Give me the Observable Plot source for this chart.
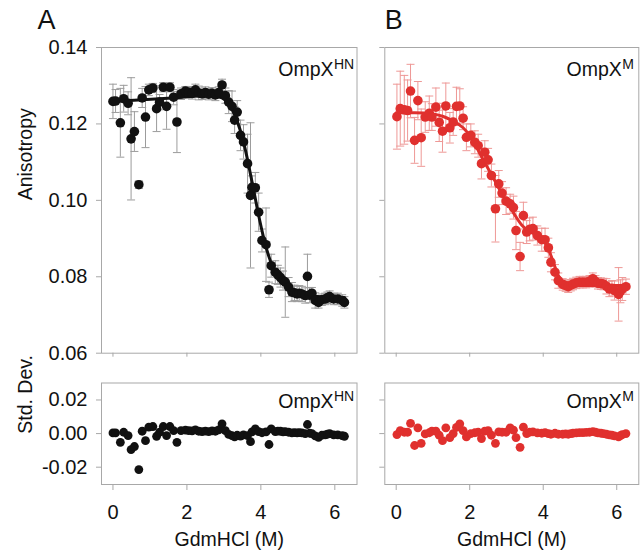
<!DOCTYPE html>
<html><head><meta charset="utf-8">
<script src="https://cdn.jsdelivr.net/npm/d3@7"></script>
<script src="https://cdn.jsdelivr.net/npm/@observablehq/plot@0.6"></script>
<style>
html,body{margin:0;padding:0;background:#fff;}
#chart{position:relative;width:640px;height:552px;overflow:hidden;font-family:"Liberation Sans",Arial,sans-serif;}
#chart svg{position:absolute;left:0;top:0;background:transparent;}
</style></head><body><div id="chart"></div>
<script>
// ---------- data ----------
const xTicks = [0, 2, 4, 6];
const anisoTicks = [0.06, 0.08, 0.10, 0.12, 0.14];
const sdTicks = [-0.02, 0, 0.02];

// OmpX HN (panel A)
const hnX   = [0.00,0.07,0.20,0.29,0.41,0.49,0.58,0.70,0.79,0.88,0.97,1.08,1.18,1.26,1.36,1.45,1.54,1.64,1.73,1.84,1.96,2.05,2.14,2.23,2.32,2.41,2.50,2.59,2.68,2.77,2.86,2.95,3.04,3.13,3.22,3.29,3.36,3.45,3.53,3.64,3.72,3.76,3.85,3.94,4.03,4.14,4.22,4.28,4.39,4.46,4.53,4.60,4.66,4.75,4.84,4.91,4.98,5.04,5.11,5.20,5.26,5.32,5.38,5.47,5.56,5.65,5.74,5.80,5.86,5.97,6.08,6.20,6.26];
const hnY   = [0.1259,0.1260,0.1203,0.1266,0.1254,0.1161,0.1180,0.1041,0.1268,0.1218,0.1289,0.1294,0.1240,0.1257,0.1296,0.1246,0.1296,0.1270,0.1205,0.1279,0.1286,0.1283,0.1280,0.1289,0.1281,0.1279,0.1282,0.1278,0.1280,0.1276,0.1282,0.1302,0.1274,0.1257,0.1246,0.1210,0.1231,0.1170,0.1153,0.1096,0.1013,0.1034,0.1033,0.0969,0.0895,0.0884,0.0766,0.0829,0.0812,0.0805,0.0798,0.0790,0.0786,0.0773,0.0760,0.0758,0.0755,0.0757,0.0755,0.0751,0.0801,0.0752,0.0757,0.0738,0.0733,0.0740,0.0742,0.0745,0.0748,0.0742,0.0742,0.0738,0.0733];
const hnErr = [0.0045,0.0030,0.0090,0.0035,0.0030,0.0160,0.0052,0.0010,0.0025,0.0080,0.0015,0.0012,0.0060,0.0020,0.0012,0.0060,0.0012,0.0020,0.0080,0.0015,0.0012,0.0015,0.0015,0.0015,0.0018,0.0015,0.0015,0.0015,0.0015,0.0015,0.0015,0.0015,0.0020,0.0030,0.0040,0.0035,0.0030,0.0040,0.0045,0.0077,0.0190,0.0030,0.0040,0.0050,0.0030,0.0096,0.0020,0.0030,0.0030,0.0025,0.0025,0.0025,0.0092,0.0025,0.0025,0.0020,0.0020,0.0020,0.0020,0.0020,0.0058,0.0020,0.0015,0.0020,0.0015,0.0015,0.0015,0.0015,0.0015,0.0015,0.0015,0.0015,0.0015];
const hnRes = [0.0004,0.0004,-0.0052,0.0008,-0.0012,-0.0095,-0.0077,-0.0214,0.0014,-0.0042,0.0038,0.0042,-0.0016,0.0008,0.0042,-0.0012,0.0042,0.0018,-0.0052,0.0018,0.0020,0.0018,0.0016,0.0022,0.0014,0.0012,0.0015,0.0012,0.0016,0.0014,0.0022,0.0058,0.0018,-0.0005,-0.0012,-0.0020,-0.0010,-0.0015,-0.0008,-0.0012,-0.0048,0.0010,0.0028,0.0012,0.0005,0.0010,-0.0065,0.0028,0.0012,0.0015,0.0014,0.0010,0.0012,0.0008,0.0004,0.0006,0.0004,0.0006,0.0004,0.0000,0.0054,0.0002,0.0000,-0.0014,-0.0022,-0.0010,-0.0008,-0.0004,0.0000,-0.0008,-0.0008,-0.0012,-0.0016];
const hnFitX = [0.00,0.80,1.60,2.30,2.70,2.95,3.15,3.35,3.52,3.62,3.72,3.82,3.92,4.02,4.12,4.22,4.32,4.45,4.66,4.90,5.20,5.60,6.00,6.27];
const hnFitY = [0.1259,0.1263,0.1268,0.1273,0.1274,0.1268,0.1250,0.1210,0.1157,0.1115,0.1068,0.1020,0.0970,0.0925,0.0885,0.0852,0.0826,0.0802,0.0778,0.0762,0.0753,0.0748,0.0746,0.0745];

// OmpX M (panel B)
const mX   = [0.02,0.11,0.22,0.31,0.39,0.50,0.59,0.68,0.79,0.90,0.97,1.08,1.17,1.26,1.35,1.46,1.55,1.64,1.73,1.82,1.91,2.03,2.14,2.23,2.32,2.41,2.50,2.59,2.70,2.79,2.88,2.99,3.10,3.19,3.26,3.37,3.46,3.55,3.63,3.72,3.84,3.96,4.05,4.14,4.21,4.32,4.41,4.53,4.61,4.68,4.75,4.81,4.90,4.99,5.08,5.17,5.26,5.35,5.42,5.49,5.57,5.64,5.72,5.80,5.87,5.94,6.05,6.10,6.15,6.25];
const mY   = [0.1219,0.1240,0.1237,0.1235,0.1286,0.1157,0.1261,0.1164,0.1218,0.1228,0.1218,0.1244,0.1204,0.1181,0.1247,0.1190,0.1205,0.1246,0.1247,0.1215,0.1165,0.1170,0.1152,0.1143,0.1096,0.1126,0.1106,0.1065,0.0978,0.1043,0.1019,0.0998,0.0991,0.0981,0.0921,0.0853,0.0960,0.0917,0.0924,0.0926,0.0908,0.0897,0.0897,0.0876,0.0838,0.0812,0.0790,0.0780,0.0777,0.0774,0.0778,0.0781,0.0784,0.0786,0.0786,0.0786,0.0788,0.0795,0.0788,0.0783,0.0782,0.0781,0.0775,0.0768,0.0770,0.0764,0.0754,0.0762,0.0768,0.0774];
const mErr = [0.0085,0.0098,0.0090,0.0080,0.0070,0.0060,0.0050,0.0075,0.0040,0.0045,0.0035,0.0050,0.0050,0.0055,0.0060,0.0040,0.0035,0.0050,0.0045,0.0030,0.0035,0.0030,0.0030,0.0030,0.0040,0.0030,0.0030,0.0030,0.0087,0.0035,0.0030,0.0035,0.0025,0.0030,0.0050,0.0037,0.0035,0.0030,0.0030,0.0030,0.0025,0.0030,0.0030,0.0025,0.0025,0.0020,0.0020,0.0015,0.0015,0.0015,0.0015,0.0015,0.0015,0.0015,0.0015,0.0015,0.0015,0.0015,0.0015,0.0015,0.0015,0.0015,0.0020,0.0020,0.0020,0.0025,0.0070,0.0030,0.0030,0.0020];
const mRes = [-0.0006,0.0018,0.0008,0.0008,0.0061,-0.0071,0.0034,-0.0058,-0.0002,0.0005,0.0015,0.0015,-0.0010,-0.0042,0.0034,-0.0024,0.0000,0.0037,0.0058,0.0018,-0.0020,0.0000,0.0005,0.0008,-0.0030,0.0015,0.0018,-0.0010,-0.0058,0.0010,0.0008,0.0008,0.0034,0.0020,-0.0024,-0.0082,0.0038,0.0000,0.0008,0.0010,0.0004,0.0002,0.0006,0.0000,-0.0004,0.0002,-0.0004,-0.0004,-0.0002,-0.0004,0.0000,0.0002,0.0004,0.0006,0.0006,0.0007,0.0008,0.0012,0.0008,0.0004,0.0002,0.0000,-0.0004,-0.0008,-0.0010,-0.0014,-0.0020,-0.0012,-0.0006,0.0000];
const mFitX = [0.00,0.50,1.00,1.26,1.50,1.82,2.07,2.29,2.45,2.65,2.85,3.05,3.20,3.42,3.60,3.80,3.95,4.10,4.25,4.40,4.55,4.70,5.00,5.50,6.00,6.25];
const mFitY = [0.1229,0.1229,0.1226,0.1220,0.1210,0.1190,0.1161,0.1120,0.1092,0.1057,0.1022,0.0990,0.0966,0.0935,0.0920,0.0910,0.0900,0.0882,0.0845,0.0805,0.0786,0.0779,0.0777,0.0777,0.0777,0.0777];

// ---------- drawing ----------
const W = 640, H = 552;
const FONT = '"Liberation Sans", Arial, sans-serif';
const xDomain = [-0.31, 6.6];
const grey = "#a8a8a8";
const black = "#111";
const red = "#e0302e";
const capSymbol = {draw(ctx, size) {const w = Math.sqrt(size / Math.PI); ctx.moveTo(-w, 0); ctx.lineTo(w, 0);}};
const fmt = d => d.toFixed(2);

const rows = (xs, ys, es, rs) => xs.map((x, i) => ({x, y: ys[i], e: es[i], r: rs[i]}));
const fitRows = (xs, ys) => xs.map((x, i) => ({x, y: ys[i]}));

const hn = rows(hnX, hnY, hnErr, hnRes), hnFit = fitRows(hnFitX, hnFitY);
const mm = rows(mX, mY, mErr, mRes), mFit = fitRows(mFitX, mFitY);

function label(main, sup, mainDx, mainDy, supDy) {
  return [
    Plot.text([main], {frameAnchor: "top-right", textAnchor: "end", lineAnchor: "middle", dx: mainDx, dy: mainDy, fontSize: 19.5, fill: black}),
    Plot.text([sup], {frameAnchor: "top-right", textAnchor: "start", lineAnchor: "middle", dx: mainDx + 0.5, dy: supDy, fontSize: 14, fill: black})
  ];
}

function topPanel(o) {
  return Plot.plot({
    width: W, height: H,
    marginLeft: o.l, marginRight: W - o.r, marginTop: 47, marginBottom: H - 352.7,
    style: {fontFamily: FONT, fontSize: "20px", color: black, background: "transparent", overflow: "visible"},
    x: {domain: xDomain},
    y: {domain: [0.06, 0.14]},
    marks: [
      Plot.frame({stroke: grey}),
      Plot.axisY(anisoTicks, {tickSize: 5, tickPadding: 9, stroke: grey, fill: black, fontSize: 20, tickFormat: o.yLabels ? fmt : () => "", label: null}),
      Plot.axisX(xTicks, {tickSize: 4, stroke: grey, tickFormat: () => "", label: null}),
      Plot.ruleX(o.data, {x: "x", y1: d => d.y - d.e, y2: d => d.y + d.e, stroke: o.err, strokeWidth: 1}),
      Plot.dot(o.data, {x: "x", y: d => d.y + d.e, symbol: capSymbol, r: 4, stroke: o.err, strokeWidth: 1}),
      Plot.dot(o.data, {x: "x", y: d => d.y - d.e, symbol: capSymbol, r: 4, stroke: o.err, strokeWidth: 1}),
      Plot.line(o.fit, {x: "x", y: "y", stroke: o.color, strokeWidth: 3, curve: "monotone-x"}),
      Plot.dot(o.data, {x: "x", y: "y", r: 4.8, fill: o.color, stroke: "none"}),
      ...label("OmpX", o.sup, o.mainDx, 21.8, 17),
      Plot.text([o.letter], {frameAnchor: "top-left", textAnchor: "middle", lineAnchor: "middle", dx: o.letterDx, dy: -27, fontSize: 27, fill: black}),
      ...(o.yLabels ? [Plot.text(["Anisotropy"], {frameAnchor: "left", lineAnchor: "middle", dx: -76, rotate: -90, fontSize: 19.5, fill: black})] : [])
    ]
  });
}

function bottomPanel(o) {
  return Plot.plot({
    width: W, height: H,
    marginLeft: o.l, marginRight: W - o.r, marginTop: 382.5, marginBottom: H - 484,
    style: {fontFamily: FONT, fontSize: "20px", color: black, background: "transparent", overflow: "visible"},
    x: {domain: xDomain},
    y: {domain: [-0.0303, 0.0301]},
    marks: [
      Plot.frame({stroke: grey}),
      Plot.axisY(sdTicks, {tickSize: 5, tickPadding: 9, stroke: grey, fill: black, fontSize: 20, tickFormat: o.yLabels ? fmt : () => "", label: null}),
      Plot.axisX(xTicks, {tickSize: 6, tickPadding: 14, stroke: grey, fill: black, fontSize: 20, tickFormat: d => String(d), label: null}),
      Plot.dot(o.data, {x: "x", y: "r", r: 4.4, fill: o.color, stroke: "none"}),
      ...label("OmpX", o.sup, o.mainDx, 18.3, 13.5),
      Plot.text(["GdmHCl (M)"], {frameAnchor: "bottom", lineAnchor: "middle", dy: 55, fontSize: 19.5, fill: black}),
      ...(o.yLabels ? [Plot.text(["Std. Dev."], {frameAnchor: "left", lineAnchor: "middle", dx: -76, rotate: -90, fontSize: 19.5, fill: black})] : [])
    ]
  });
}

const chart = document.getElementById("chart");
chart.append(
  topPanel({l: 101, r: 356.5, data: hn, fit: hnFit, color: black, err: "#9c9c9c", sup: "HN", mainDx: -23.5, letter: "A", letterDx: -55, yLabels: true}),
  topPanel({l: 384.3, r: 638.3, data: mm, fit: mFit, color: red, err: "#ee9896", sup: "M", mainDx: -17, letter: "B", letterDx: 9, yLabels: false}),
  bottomPanel({l: 101, r: 356.5, data: hn, color: black, sup: "HN", mainDx: -23.5, yLabels: true}),
  bottomPanel({l: 384.3, r: 638.3, data: mm, color: red, sup: "M", mainDx: -17, yLabels: false})
);
</script></body></html>
